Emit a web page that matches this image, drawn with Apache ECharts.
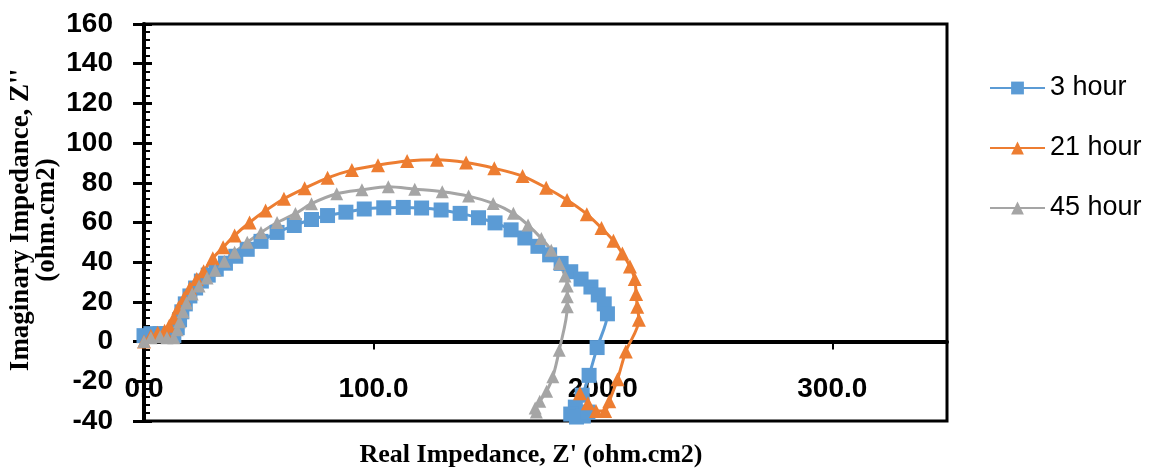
<!DOCTYPE html>
<html>
<head>
<meta charset="utf-8">
<script src="https://cdn.jsdelivr.net/npm/echarts@6/dist/echarts.min.js"></script>
<style>
  html, body { margin: 0; padding: 0; background: #fff; }
  #chart { width: 1149px; height: 468px; }
</style>
</head>
<body>
<div id="chart"></div>
<script>
// Nyquist data: [Z' real, Z'' imaginary] in ohm.cm2
const seriesNames = ['3 hour', '21 hour', '45 hour'];

const hour3 = [
  [0, 3], [3, 4], [7, 4], [10, 4], [13, 3], [14.5, 7], [15.5, 11], [16.5, 15],
  [18, 19], [20, 23], [22.5, 27], [25, 30.5], [28, 33.5], [31.5, 36.5], [35.5, 39.5],
  [40, 43], [45, 46.5], [51, 50.5], [58, 55], [65.5, 58.5], [73, 61.5], [80, 63.5],
  [88, 65.2], [96, 66.8], [104.5, 67.4], [113, 67.6], [121, 67.3], [129.5, 66.3],
  [137.8, 64.6], [145.8, 62.4], [153, 59.8], [160, 56.3], [166, 52.2], [171.7, 48],
  [176.8, 43.7], [181.8, 39.4], [186, 35.2], [190.5, 31.5], [194.8, 27.5], [198, 23.5],
  [200.6, 19], [202, 14], [197.5, -3], [194, -17], [191, -27], [188, -33], [186, -36.5],
  [188.5, -38], [191.5, -37.5], [193.5, -35.5]
];

const hour21 = [
  [0, 0], [3, 3], [6, 4.5], [9, 5.5], [11, 8], [13, 12], [15, 17], [17.5, 22],
  [20, 27], [23, 31.5], [26, 35.5], [30, 42], [34.5, 47.5], [39.5, 53.5], [46, 60],
  [53, 66], [61, 72], [70, 77.2], [80, 82.5], [90.6, 86.4], [102, 88.9], [114.7, 91],
  [127.7, 91.6], [140.4, 90.2], [152.7, 87.3], [165, 83.4], [175.3, 77.5], [184.4, 71.3],
  [193, 64.2], [199.4, 57.2], [204.6, 50.8], [208.5, 44.4], [211.8, 37.8], [213.9, 31.5],
  [214.5, 24], [215, 17.5], [215.7, 11], [210, -5], [206.4, -19], [202.8, -30],
  [201, -35], [197, -35], [193.5, -31], [190, -26]
];

const hour45 = [
  [0, 0], [3, 2], [7, 2.5], [10, 2], [13, 2], [14.5, 6], [15.5, 10], [17, 15],
  [18.5, 19.5], [21, 24], [24, 28], [27.5, 32], [31, 36], [35, 40.5], [39.5, 45],
  [45, 50], [51, 55], [58, 60], [66, 64.5], [73, 69.5], [84, 74.5], [95, 76.5],
  [106.5, 78], [118, 76.8], [130, 75.5], [141.5, 73.3], [152.2, 69.6], [161, 64.6],
  [167.4, 58.7], [173.2, 52], [177.5, 46], [181, 39.4], [183.5, 33], [184.5, 28],
  [184.5, 22.6], [184.5, 17.5], [181, -4.3], [178.2, -17.7], [175.5, -25], [172.5, -30],
  [170.5, -33.5], [171, -35.5]
];

const seriesData = [hour3, hour21, hour45];
const seriesColors = ['#5B9BD5', '#ED7D31', '#A5A5A5'];
const seriesSymbols = ['rect', 'triangle', 'triangle'];
const seriesSymbolSizes = [15, 14, 13];

const xRange = { min: 0, max: 350, interval: 100 };
const yRange = { min: -40, max: 160, interval: 20 };

const xTitle = "Real Impedance, Z' (ohm.cm2)";
const yTitle = "Imaginary Impedance, Z''\n(ohm.cm2)";

const labelFont = { fontFamily: 'Liberation Sans', fontWeight: 'bold', fontSize: 28, color: '#000' };
const titleFont = { fontFamily: 'Liberation Serif', fontWeight: 'bold', fontSize: 26 };

const chart = echarts.init(document.getElementById('chart'), null, { renderer: 'canvas' });

chart.setOption({
  animation: false,
  backgroundColor: '#fff',
  grid: {
    left: 144, right: 202, top: 24, bottom: 47,
    show: true, borderColor: '#000', borderWidth: 3, backgroundColor: 'transparent'
  },
  xAxis: {
    type: 'value',
    min: xRange.min, max: xRange.max, interval: xRange.interval,
    axisLine: { show: true, onZero: true, lineStyle: { color: '#000', width: 4 } },
    axisTick: { show: true, length: 8, lineStyle: { color: '#000', width: 2 } },
    splitLine: { show: false },
    // labels sit just below the zero line
    axisLabel: Object.assign({
      margin: -46, showMaxLabel: false,
      formatter: v => v.toFixed(1)
    }, labelFont)
  },
  yAxis: [
    {
      type: 'value', position: 'left',
      min: yRange.min, max: yRange.max, interval: yRange.interval,
      axisLine: { show: true, onZero: false, lineStyle: { color: '#000', width: 4 } },
      axisTick: { show: true, length: 11, lineStyle: { color: '#000', width: 3 } },
      splitLine: { show: false },
      axisLabel: Object.assign({ margin: 31 }, labelFont)
    },
    {
      // inner half of the cross ticks plus the minor ticks
      type: 'value', position: 'left',
      min: yRange.min, max: yRange.max, interval: yRange.interval,
      axisLine: { show: false, onZero: false },
      axisTick: { show: true, inside: true, length: 8, lineStyle: { color: '#000', width: 3 } },
      minorTick: { show: true, splitNumber: 5, length: 6, lineStyle: { color: '#000', width: 2 } },
      splitLine: { show: false },
      axisLabel: { show: false }
    }
  ],
  legend: {
    orient: 'vertical', left: 989, top: 72, padding: 0,
    itemWidth: 55, itemHeight: 16, itemGap: 28,
    textStyle: { fontFamily: 'Liberation Sans', fontSize: 27, color: '#000', lineHeight: 32 },
    data: seriesNames
  },
  graphic: [
    {
      type: 'text', x: 531, y: 455,
      style: Object.assign({
        text: xTitle, fill: '#000', align: 'center', verticalAlign: 'middle'
      }, titleFont)
    },
    {
      type: 'text', x: 34.5, y: 220, rotation: Math.PI / 2,
      style: Object.assign({
        text: yTitle, fill: '#000', align: 'center', verticalAlign: 'middle', lineHeight: 26
      }, titleFont, { fontSize: 27 })
    }
  ],
  series: seriesNames.map((name, i) => ({
    name,
    type: 'line',
    data: seriesData[i],
    smooth: 0.3,
    symbol: seriesSymbols[i],
    symbolSize: seriesSymbolSizes[i],
    showAllSymbol: true,
    lineStyle: { color: seriesColors[i], width: 3 },
    itemStyle: { color: seriesColors[i] },
    emphasis: { disabled: true }
  }))
});
</script>
</body>
</html>
